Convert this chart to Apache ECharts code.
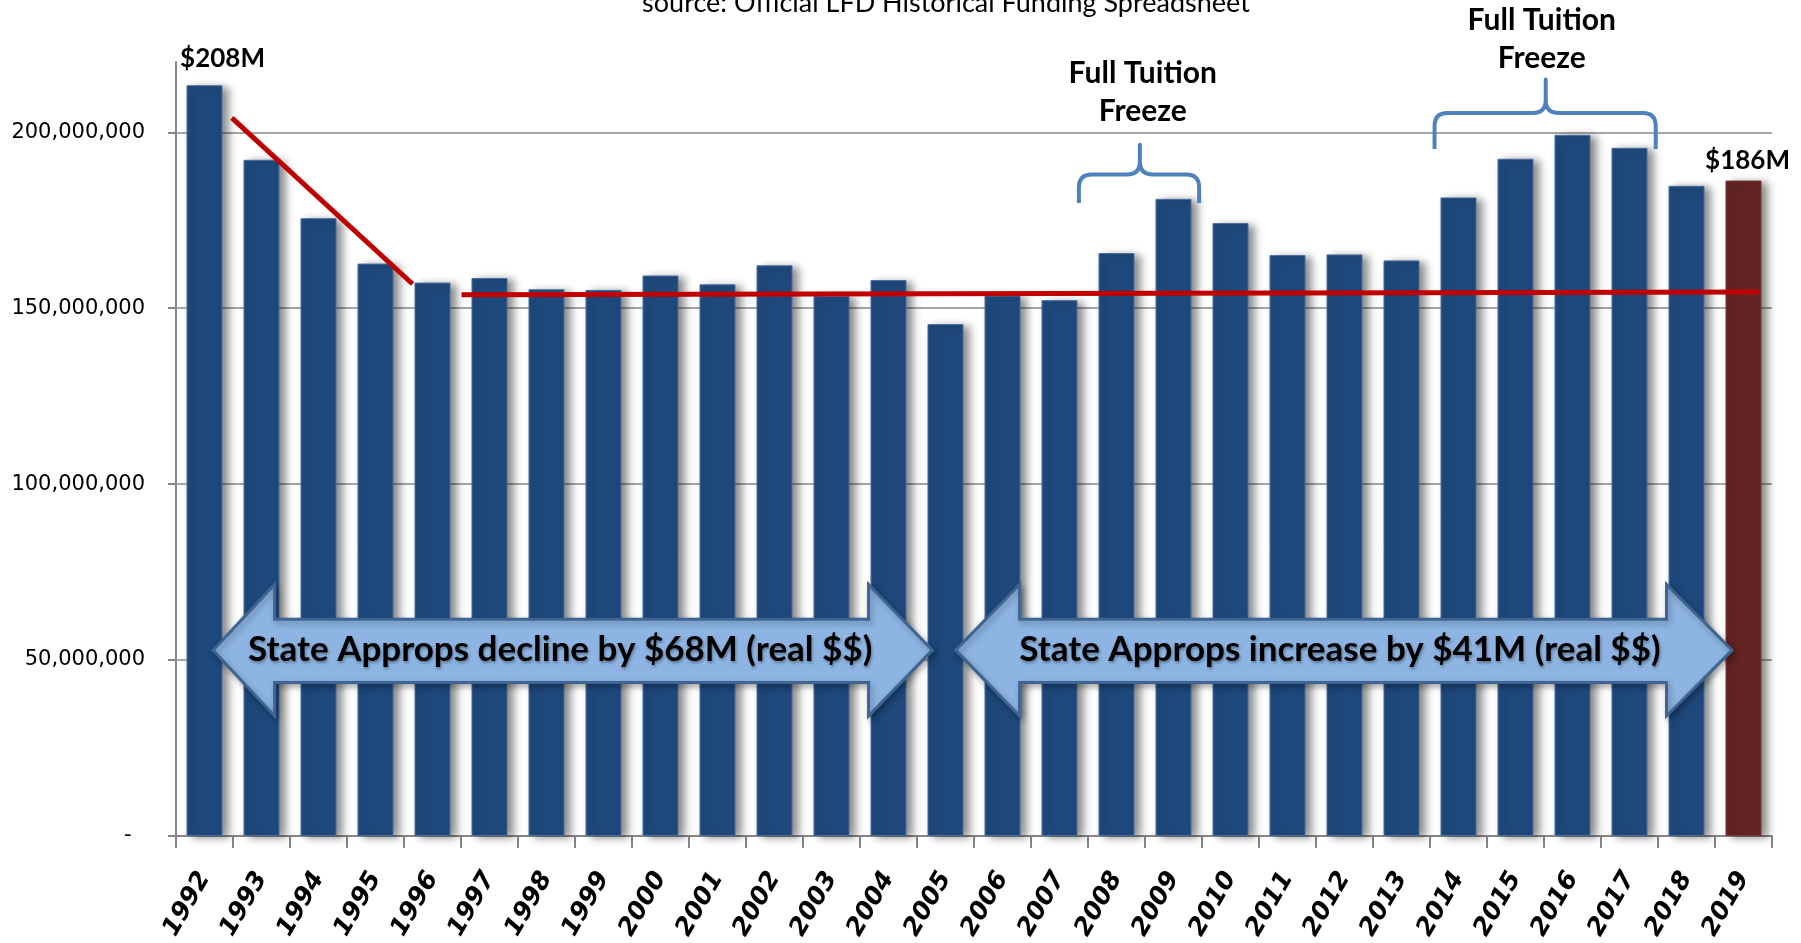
<!DOCTYPE html>
<html>
<head>
<meta charset="utf-8">
<title>State Appropriations 1992-2019</title>
<script src="https://cdn.jsdelivr.net/npm/echarts@6/dist/echarts.min.js"></script>
<style>
  html, body { margin: 0; padding: 0; background: #fff; }
  #chart { width: 1801px; height: 943px; }
</style>
</head>
<body>
<div id="chart"></div>
<script>
// fiscal years and state appropriations (real $)
const years = ['1992', '1993', '1994', '1995', '1996', '1997', '1998', '1999', '2000', '2001',
  '2002', '2003', '2004', '2005', '2006', '2007', '2008', '2009', '2010', '2011',
  '2012', '2013', '2014', '2015', '2016', '2017', '2018', '2019'];
const approps = [213400000, 192200000, 175600000, 162700000, 157300000, 158600000, 155400000,
  155200000, 159300000, 156800000, 162200000, 153500000, 158000000, 145500000, 153600000,
  152300000, 165700000, 181100000, 174200000, 165100000, 165300000, 163600000, 181500000,
  192500000, 199300000, 195600000, 184800000, 186300000];
const barNotes = ['$208M', '', '', '', '', '', '', '', '', '', '', '', '', '', '', '', '', '', '', '', '', '', '', '', '', '', '', '$186M'];
const yTicks = [0, 50000000, 100000000, 150000000, 200000000];

// trend lines, x in category units (0 = left edge of 1992)
const declineTrend = [[0.98, 204100000], [4.15, 156900000]];
const flatTrend = [[5.01, 153800000], [27.77, 154600000]];

// tuition freeze braces
const braceFrom = [15.84, 22.08];
const braceTo = [17.95, 25.96];
const braceTip = [16.91, 24.03];
const braceEnd = [179900000, 195300000];
const braceBar = [188000000, 205500000];
const bracePeak = [196500000, 215000000];
const braceTextX = [16.96, 23.96];
const braceTextY = [211400000, 226400000];
const braceTexts = ['Full Tuition\nFreeze', 'Full Tuition\nFreeze'];

// double arrows
const arrowTips = [[0.65, 13.27], [13.68, 27.30]];
const arrowHeadBases = [[1.73, 12.15], [14.80, 26.15]];
const arrowBand = [34100000, 43600000, 52800000, 61600000, 71500000];
const arrowTextX = [6.74, 20.42];
const arrowTexts = ['State Approps decline by $68M (real $$)', 'State Approps increase by $41M (real $$)'];

const BLUE = '#1F497D';
const MAROON = '#632523';
const TXT = 'Lato, "Open Sans", sans-serif';

const chart = echarts.init(document.getElementById('chart'));

function arrowItem(params, api) {
  const i = params.dataIndex;
  const [tl, tr] = arrowTips[i];
  const [bl, br] = arrowHeadBases[i];
  const [hb, bb, mid, bt, ht] = arrowBand;
  const pts = [[tl, mid], [bl, ht], [bl, bt], [br, bt], [br, ht], [tr, mid],
    [br, hb], [br, bb], [bl, bb], [bl, hb]].map(d => api.coord(d));
  const c = api.coord([arrowTextX[i], mid]);
  return {
    type: 'group',
    children: [
      {
        type: 'polygon',
        shape: { points: pts },
        style: {
          fill: '#8DB4E2', stroke: '#3E6493', lineWidth: 3,
          shadowBlur: 6, shadowColor: 'rgba(0,0,0,0.3)', shadowOffsetX: 2, shadowOffsetY: 3
        }
      },
      {
        type: 'text',
        x: c[0], y: c[1],
        style: {
          text: arrowTexts[i], fill: '#000',
          fontSize: 35, fontWeight: 'bold', fontFamily: TXT,
          align: 'center', verticalAlign: 'middle',
          textShadowColor: 'rgba(0,0,0,0.35)', textShadowBlur: 3,
          textShadowOffsetX: 1, textShadowOffsetY: 2
        }
      }
    ]
  };
}

function braceItem(params, api) {
  const i = params.dataIndex;
  const [x0, yEnd] = api.coord([braceFrom[i], braceEnd[i]]);
  const [x1, yBar] = api.coord([braceTo[i], braceBar[i]]);
  const [xt, yPeak] = api.coord([braceTip[i], bracePeak[i]]);
  const t = api.coord([braceTextX[i], braceTextY[i]]);
  const r = 13, m = 13;
  const d = 'M' + x0 + ',' + yEnd +
    ' L' + x0 + ',' + (yBar + r) +
    ' Q' + x0 + ',' + yBar + ' ' + (x0 + r) + ',' + yBar +
    ' L' + (xt - m) + ',' + yBar +
    ' Q' + xt + ',' + yBar + ' ' + xt + ',' + (yBar - m) +
    ' L' + xt + ',' + yPeak +
    ' L' + xt + ',' + (yBar - m) +
    ' Q' + xt + ',' + yBar + ' ' + (xt + m) + ',' + yBar +
    ' L' + (x1 - r) + ',' + yBar +
    ' Q' + x1 + ',' + yBar + ' ' + x1 + ',' + (yBar + r) +
    ' L' + x1 + ',' + yEnd;
  return {
    type: 'group',
    children: [
      {
        type: 'path',
        shape: { pathData: d },
        style: { fill: 'none', stroke: '#4F81BD', lineWidth: 4, lineJoin: 'round' }
      },
      {
        type: 'text',
        x: t[0], y: t[1],
        style: {
          text: braceTexts[i], fill: '#000',
          fontSize: 30, fontWeight: 'bold', fontFamily: TXT, lineHeight: 38,
          align: 'center', verticalAlign: 'middle'
        }
      }
    ]
  };
}

const barData = approps.map((v, i) => {
  const item = { value: v };
  if (i === approps.length - 1) item.itemStyle = { color: MAROON, borderColor: '#7a3a38' };
  if (barNotes[i]) {
    item.label = {
      show: true, position: 'top', formatter: barNotes[i],
      distance: i === 0 ? 14 : 7, offset: i === 0 ? [18, 0] : [4, 0],
      fontSize: 26, fontWeight: 'bold', fontFamily: TXT, color: '#000'
    };
  }
  return item;
});

const option = {
  animation: false,
  backgroundColor: '#fff',
  grid: { left: 176, right: 29, top: 62, bottom: 106 },
  graphic: [{
    type: 'text', x: 946, y: 17,
    style: {
      text: 'source: Official LFD Historical Funding Spreadsheet',
      fontSize: 27, fontFamily: TXT, fill: '#000',
      align: 'center', verticalAlign: 'bottom'
    }
  }],
  xAxis: [{
    type: 'category',
    data: years,
    axisLine: { lineStyle: { color: '#868686', width: 2 } },
    axisTick: { show: true, length: 12, lineStyle: { color: '#868686', width: 2 } },
    axisLabel: {
      rotate: 60, margin: 38, interval: 0,
      fontSize: 25, fontWeight: 'bold', fontStyle: 'italic',
      fontFamily: '"DejaVu Sans", Verdana, sans-serif', color: '#000'
    },
    splitLine: { show: false }
  }, {
    type: 'value', min: 0, max: 28, show: false
  }],
  yAxis: {
    type: 'value',
    min: 0, max: 220000000, interval: 50000000,
    axisLine: { show: true, lineStyle: { color: '#868686', width: 2 } },
    axisTick: { show: true, length: 8, customValues: yTicks, lineStyle: { color: '#868686', width: 2 } },
    axisLabel: {
      customValues: yTicks, margin: 31,
      fontSize: 21, fontFamily: '"DejaVu Sans", Verdana, sans-serif', color: '#000',
      formatter: v => v === 0 ? '-  ' : v.toLocaleString('en-US')
    },
    splitLine: { show: true, lineStyle: { color: '#898989', width: 1.5 } }
  },
  series: [
    {
      type: 'bar',
      data: barData,
      barWidth: 36,
      itemStyle: {
        color: BLUE, borderColor: '#4B6E9E', borderWidth: 1,
        shadowBlur: 8, shadowColor: 'rgba(0,0,0,0.45)', shadowOffsetX: 6, shadowOffsetY: 2
      },
      z: 2
    },
    {
      type: 'line', xAxisIndex: 1, data: declineTrend, symbol: 'none',
      lineStyle: { color: '#C00000', width: 5 }, z: 4
    },
    {
      type: 'line', xAxisIndex: 1, data: flatTrend, symbol: 'none',
      lineStyle: { color: '#C00000', width: 5 }, z: 4
    },
    {
      type: 'custom', xAxisIndex: 1, renderItem: arrowItem,
      data: arrowTextX.map((x, i) => [x, arrowBand[2]]), z: 5
    },
    {
      type: 'custom', xAxisIndex: 1, renderItem: braceItem,
      data: braceTip.map((x, i) => [x, bracePeak[i]]), z: 5
    }
  ]
};

chart.setOption(option);
</script>
</body>
</html>
